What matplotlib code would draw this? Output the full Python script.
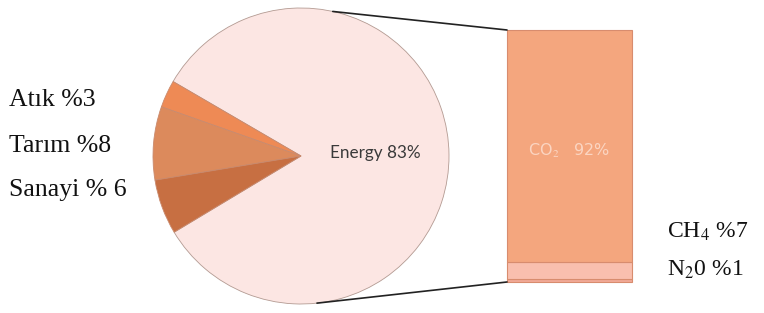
import numpy as np
import matplotlib.pyplot as plt
from matplotlib.patches import ConnectionPatch

# Data
pie_labels = ["Energy", "Atık", "Tarım", "Sanayi"]
pie_values = [83, 3, 8, 6]
pie_colors = ["#fce6e3", "#ee8a55", "#dc8a5c", "#c76f42"]

gas_labels = ["N$_2$0", "CH$_4$", "CO$_2$"]
gas_values = [1, 7, 92]
gas_colors = ["#f2aa98", "#f9bfae", "#f4a67e"]

plt.rcParams["mathtext.fontset"] = "stix"
W, H = 764, 313
fig = plt.figure(figsize=(W / 100, H / 100), dpi=100)

# Pie (left)
ax_pie = fig.add_axes([153 / W, 9 / H, 296 / W, 296 / H])
wedges, _ = ax_pie.pie(pie_values, colors=pie_colors, startangle=211, counterclock=True,
                       wedgeprops=dict(edgecolor="#c98a6e", linewidth=0.6))
wedges[0].set_edgecolor("#b39a92")
ax_pie.set_xlim(-1, 1)
ax_pie.set_ylim(-1, 1)
ax_pie.set_aspect("equal")
ax_pie.axis("off")
ax_pie.text(0.5, 0.02, "Energy 83%", ha="center", va="center", fontsize=12.3,
            family="Lato", color="#3a3a3a")

# Stacked bar (right)
ax_bar = fig.add_axes([507 / W, 31 / H, 125 / W, 252 / H])
bottom = 0
for lab, val, col in zip(gas_labels, gas_values, gas_colors):
    b = ax_bar.bar(0, val, bottom=bottom, width=1, color=col, edgecolor="#d88c6e", linewidth=0.8)
    for r in b:
        r.set_clip_on(False)
    bottom += val
ax_bar.set_xlim(-0.5, 0.5)
ax_bar.set_ylim(0, 100)
ax_bar.axis("off")
ax_bar.text(0, 52, "CO$_2$   92%", ha="center", va="center", fontsize=11.5,
            family="DejaVu Sans", color="#fbd5c2")

# Connector lines
for ang, ybar in [(77.6, 100), (-83.8, 0)]:
    p = (np.cos(np.radians(ang)), np.sin(np.radians(ang)))
    con = ConnectionPatch(xyA=p, coordsA=ax_pie.transData, xyB=(-0.5, ybar),
                          coordsB=ax_bar.transData, color="#222222", linewidth=1.2)
    fig.add_artist(con)

# Side labels
left = dict(family="Liberation Serif", fontsize=18.5, color="#111111", va="center", ha="left")
right = dict(left, fontsize=17)
fig.text(9 / W, 1 - 100 / H, "Atık %3", **left)
fig.text(9 / W, 1 - 146 / H, "Tarım %8", **left)
fig.text(9 / W, 1 - 190 / H, "Sanayi % 6", **left)
fig.text(667 / W, 1 - 232 / H, "CH$_4$ %7", **right)
fig.text(667 / W, 1 - 270 / H, "N$_2$0 %1", **right)

fig.savefig("out.png", dpi=100)
